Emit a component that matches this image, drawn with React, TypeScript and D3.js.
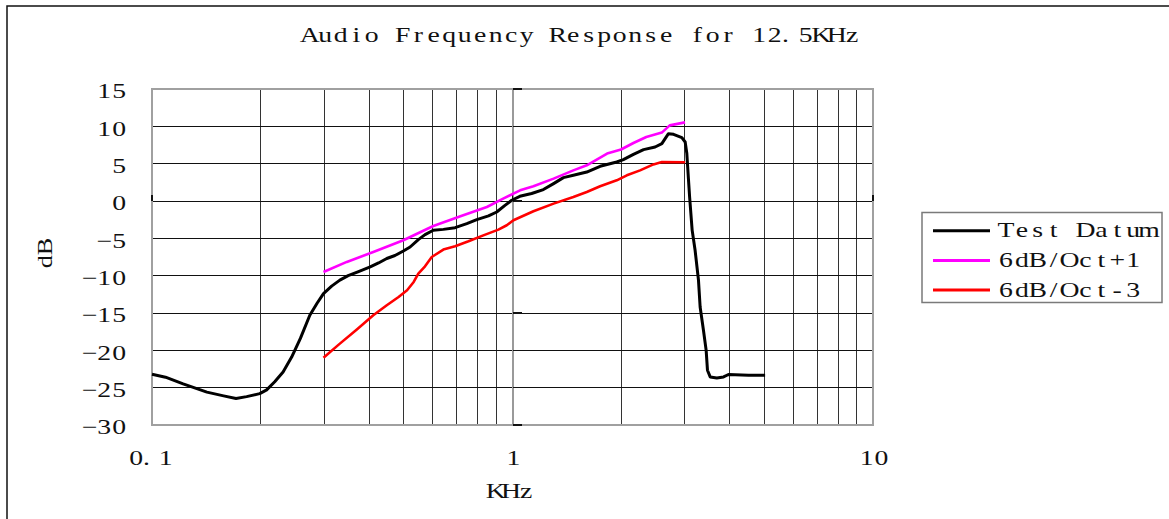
import React from "react";
import * as d3 from "d3";

// ---- data ----
const TITLE = "Audio Frequency Response for 12.5KHz";
const X_LABEL = "KHz";
const Y_LABEL = "dB";
const X_TICKS = [0.1, 1, 10];
const X_TICK_LABELS = ["0.1", "1", "10"];
const Y_TICKS = [15, 10, 5, 0, -5, -10, -15, -20, -25, -30];
const SERIES_NAMES = ["Test Datum", "6dB/Oct+1", "6dB/Oct-3"];
const SERIES_COLORS = ["#000000", "#ff00ff", "#ff0000"];

const FREQ_TEST = [
  0.1, 0.109, 0.122, 0.142, 0.158, 0.171, 0.183, 0.199, 0.208, 0.219, 0.231, 0.244,
  0.258, 0.274, 0.287, 0.299, 0.315, 0.332, 0.35, 0.374, 0.403, 0.425, 0.448, 0.472,
  0.498, 0.52, 0.548, 0.572, 0.603, 0.643, 0.693, 0.747, 0.796, 0.858, 0.904, 0.953,
  0.995, 1.048, 1.13, 1.218, 1.3, 1.384, 1.475, 1.607, 1.75, 1.946, 2.03, 2.165, 2.31,
  2.487, 2.596, 2.651, 2.708, 2.797, 2.95, 3.013, 3.045, 3.076, 3.1, 3.15, 3.21, 3.28,
  3.315, 3.386, 3.445, 3.474, 3.535, 3.688, 3.85, 3.972, 4.515, 5.02,
];
const DB_TEST = [
  -23.2, -23.6, -24.5, -25.6, -26.1, -26.45, -26.2, -25.8, -25.3, -24.2, -22.9, -20.9,
  -18.4, -15.3, -13.7, -12.4, -11.4, -10.6, -10.0, -9.45, -8.83, -8.3, -7.7, -7.3,
  -6.7, -6.16, -5.17, -4.5, -3.92, -3.8, -3.57, -3.03, -2.5, -2.0, -1.47, -0.58,
  0.1, 0.63, 1.0, 1.53, 2.33, 3.13, 3.44, 3.88, 4.65, 5.22, 5.54, 6.25, 6.88,
  7.23, 7.68, 8.35, 9.02, 8.93, 8.49, 7.9, 6.35, 3.0, 0.5, -3.9, -6.6, -10.6,
  -14.2, -17.3, -20.0, -22.66, -23.56, -23.7, -23.56, -23.24, -23.33, -23.33,
];

const FREQ_PLUS1 = [
  0.299, 0.347, 0.411, 0.498, 0.603, 0.717, 0.849, 0.942, 1.05, 1.143, 1.3, 1.475,
  1.607, 1.83, 2.0, 2.165, 2.35, 2.596, 2.73, 3.01,
];
const DB_PLUS1 = [
  -9.5, -8.16, -6.83, -5.26, -3.35, -2.05, -0.8, 0.32, 1.43, 1.97, 3.0, 4.1,
  4.78, 6.35, 6.9, 7.77, 8.57, 9.16, 10.13, 10.53,
];

const FREQ_MINUS3 = [
  0.299, 0.332, 0.37, 0.411, 0.448, 0.483, 0.51, 0.532, 0.548, 0.572, 0.597, 0.643,
  0.693, 0.755, 0.83, 0.914, 0.964, 1.006, 1.143, 1.3, 1.475, 1.607, 1.75, 1.946,
  2.076, 2.259, 2.46, 2.596, 3.013,
];
const DB_MINUS3 = [
  -21.0, -19.1, -17.2, -15.3, -13.96, -12.85, -11.95, -10.84, -9.72, -8.74, -7.5, -6.5,
  -6.06, -5.4, -4.6, -3.83, -3.25, -2.58, -1.38, -0.35, 0.54, 1.2, 1.97, 2.77,
  3.44, 4.1, 4.9, 5.22, 5.18,
];

const FONT = "'Liberation Serif', 'DejaVu Serif', serif";
const SX = 1.32; // horizontal glyph stretch

// monospaced-cell text: each character centered in its own cell, glyphs stretched
function MonoText(props: {
  text: string;
  x: number;
  y: number;
  cell: number;
  size: number;
  anchor?: "start" | "middle" | "end";
  fill?: string;
}) {
  const { text, x, y, cell, size, anchor = "start", fill = "#111" } = props;
  const chars = Array.from(text);
  const n = chars.length;
  const x0 = anchor === "start" ? x : anchor === "end" ? x - n * cell : x - (n * cell) / 2;
  const xs = chars.map((c, i) => {
    let cx = x0 + i * cell + cell / 2;
    if (c === ".") cx -= cell * 0.3;
    return (cx / SX).toFixed(2);
  });
  return (
    <text
      transform={`scale(${SX},1)`}
      x={xs.join(" ")}
      y={y}
      textAnchor="middle"
      fontFamily={FONT}
      fontSize={size}
      fill={fill}
    >
      {text}
    </text>
  );
}

export default function App() {
  const W = 1169;
  const H = 519;
  const xs = d3.scaleLog().domain([0.1, 10]).range([152, 873]);
  const ys = d3.scaleLinear().domain([-30, 15]).range([425, 89]);

  const series = [
    { f: FREQ_TEST, v: DB_TEST, w: 3 },
    { f: FREQ_PLUS1, v: DB_PLUS1, w: 2.6 },
    { f: FREQ_MINUS3, v: DB_MINUS3, w: 2.6 },
  ];
  const line = d3
    .line<[number, number]>()
    .x((d) => xs(d[0]))
    .y((d) => ys(d[1]))
    .curve(d3.curveLinear);

  const vGrid: number[] = [];
  for (const dec of [0.1, 1]) for (let k = 2; k <= 9; k++) vGrid.push(+(dec * k).toFixed(2));
  const hGrid = Y_TICKS.filter((t) => t !== 15 && t !== -30);

  const [x0, x1] = xs.range();
  const [yb, yt] = ys.range();

  return (
    <svg
      width={W}
      height={H}
      style={{ position: "absolute", left: 0, top: 0, display: "block", background: "#fff" }}
    >
      <rect x={0} y={0} width={W} height={H} fill="#fff" />
      {/* outer chart border */}
      <rect x={7} y={6} width={1300} height={700} fill="none" stroke="#111" strokeWidth={1.5} />

      {/* title */}
      <MonoText text={TITLE} x={302} y={42} cell={15.5} size={21} />

      {/* grid */}
      <g shapeRendering="crispEdges">
        {vGrid.map((f) => (
          <line key={"v" + f} x1={xs(f)} x2={xs(f)} y1={yt} y2={yb} stroke="#333" strokeWidth={1} />
        ))}
        {hGrid.map((t) => (
          <line key={"h" + t} x1={x0} x2={x1} y1={ys(t)} y2={ys(t)} stroke="#111" strokeWidth={1} />
        ))}
        {/* plot frame */}
        <rect x={x0} y={yt} width={x1 - x0} height={yb - yt} fill="none" stroke="#a0a0a0" strokeWidth={2} />
        {/* value axis at 1 kHz */}
        <line x1={xs(1)} x2={xs(1)} y1={yt} y2={yb} stroke="#9a9a9a" strokeWidth={2} />
        {Y_TICKS.map((t) => (
          <line key={"yt" + t} x1={xs(1)} x2={xs(1) + 9} y1={ys(t)} y2={ys(t)} stroke="#111" strokeWidth={1.5} />
        ))}
        {X_TICKS.map((f) => (
          <line key={"xt" + f} x1={xs(f)} x2={xs(f)} y1={ys(0)} y2={ys(0) - 6} stroke="#111" strokeWidth={1.5} />
        ))}
      </g>

      {/* data */}
      {series.map((s, i) => (
        <path
          key={"s" + i}
          d={line(s.f.map((f, j) => [f, s.v[j]] as [number, number])) || ""}
          fill="none"
          stroke={SERIES_COLORS[i]}
          strokeWidth={s.w}
          strokeLinejoin="round"
          strokeLinecap="butt"
        />
      ))}

      {/* y tick labels */}
      {Y_TICKS.map((t) => (
        <MonoText
          key={"yl" + t}
          text={t < 0 ? "\u2212" + Math.abs(t) : String(t)}
          x={126.5}
          y={ys(t) + 9.5}
          cell={14.8}
          size={21}
          anchor="end"
        />
      ))}
      {/* x tick labels */}
      {X_TICKS.map((f, i) => (
        <MonoText
          key={"xl" + f}
          text={X_TICK_LABELS[i]}
          x={xs(f) + (i === 0 ? -1 : 1)}
          y={465}
          cell={14.8}
          size={21}
          anchor="middle"
        />
      ))}
      {/* axis titles */}
      <MonoText text={X_LABEL} x={511} y={498} cell={15.3} size={21} anchor="middle" />
      <text
        transform={`translate(52,${(yt + yb) / 2 - 4}) rotate(-90) scale(1.25,1)`}
        textAnchor="middle"
        fontFamily={FONT}
        fontSize={21}
        fill="#111"
      >
        {Y_LABEL}
      </text>

      {/* legend */}
      <rect x={922} y={212.5} width={240} height={90} fill="#fff" stroke="#7a7a7a" strokeWidth={1.5} />
      {SERIES_NAMES.map((name, i) => {
        const ly = 230.7 + i * 29.7;
        return (
          <g key={"lg" + i}>
            <line x1={933} x2={990} y1={ly} y2={ly} stroke={SERIES_COLORS[i]} strokeWidth={3} />
            <MonoText text={name} x={998} y={ly + 6.5} cell={15.9} size={21} />
          </g>
        );
      })}
    </svg>
  );
}
